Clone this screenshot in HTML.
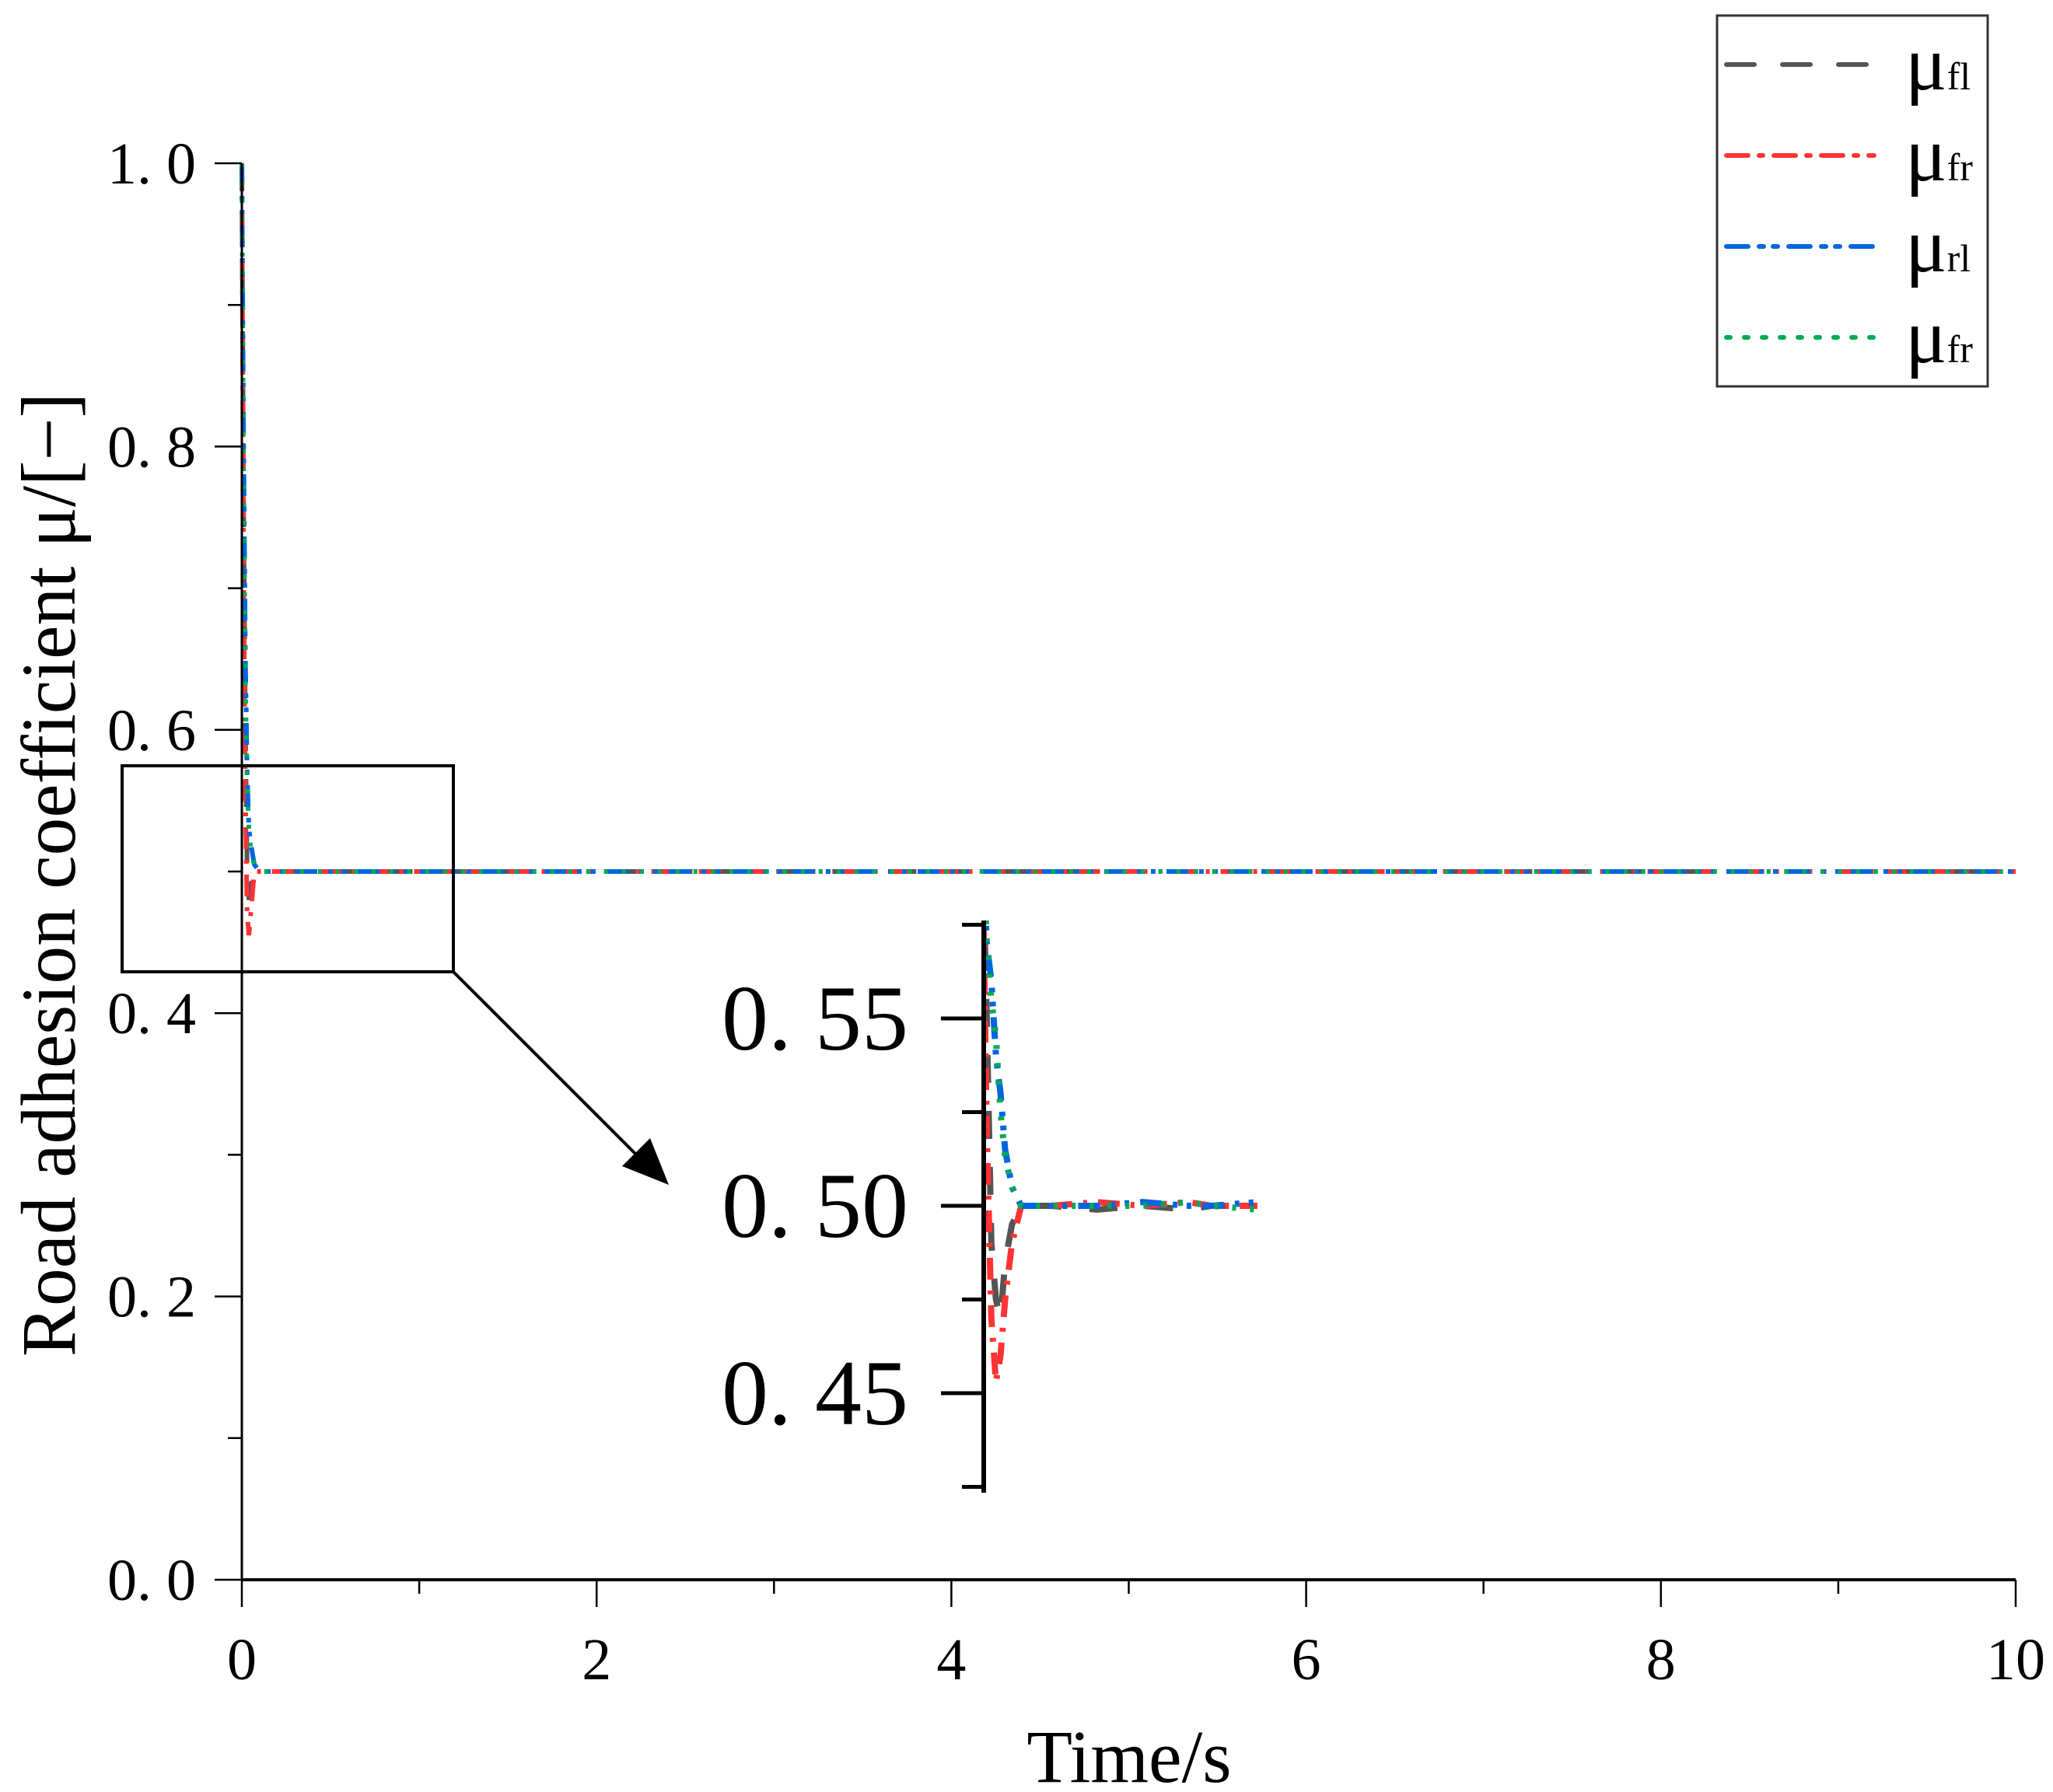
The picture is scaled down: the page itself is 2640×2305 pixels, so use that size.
<!DOCTYPE html>
<html><head><meta charset="utf-8"><style>
html,body{margin:0;padding:0;background:#fff;}
svg{display:block;font-family:"Liberation Serif",serif;}
</style></head><body>
<svg id="chart" width="2640" height="2305" viewBox="0 0 2640 2305" xmlns="http://www.w3.org/2000/svg">
<g id="main"></g>
<g id="inset"></g>
<g id="legend"></g>
</svg>
<script>
const NS="http://www.w3.org/2000/svg";
// main data
const timeMain=[0,0.01,0.02,0.03,0.04,0.05,0.07,0.1,0.5,1,2,3,4,5,6,7,8,9,10];
const muFl=[1.0,0.75,0.6,0.5,0.48,0.49,0.5,0.5,0.5,0.5,0.5,0.5,0.5,0.5,0.5,0.5,0.5,0.5,0.5];
const muFr=[1.0,0.7,0.55,0.47,0.455,0.47,0.5,0.5,0.5,0.5,0.5,0.5,0.5,0.5,0.5,0.5,0.5,0.5,0.5];
const muRl=[1.0,0.8,0.65,0.57,0.53,0.52,0.505,0.5,0.5,0.5,0.5,0.5,0.5,0.5,0.5,0.5,0.5,0.5,0.5];
const muRr=[1.0,0.78,0.63,0.56,0.53,0.515,0.505,0.5,0.5,0.5,0.5,0.5,0.5,0.5,0.5,0.5,0.5,0.5,0.5];
const xTicks=[0,2,4,6,8,10];
const yTicks=[0,0.2,0.4,0.6,0.8,1.0];
const yTickLabels=["0. 0","0. 2","0. 4","0. 6","0. 8","1. 0"];
// inset data
const timeInset=[0,0.02,0.04,0.06,0.08,0.1,0.13,0.17,0.3,0.5,0.7,0.9,1.0,1.2];
const inFl=[0.6,0.55,0.49,0.475,0.47,0.485,0.495,0.5,0.5,0.499,0.5,0.499,0.5,0.5];
const inFr=[0.6,0.52,0.47,0.453,0.46,0.475,0.49,0.5,0.5,0.501,0.5,0.501,0.5,0.5];
const inRl=[0.6,0.57,0.56,0.54,0.53,0.515,0.505,0.5,0.5,0.5,0.501,0.5,0.5,0.501];
const inRr=[0.6,0.57,0.555,0.545,0.525,0.513,0.505,0.5,0.5,0.5,0.5,0.501,0.5,0.499];
const insetTicks=[0.45,0.5,0.55];
const insetTickLabels=["0. 45","0. 50","0. 55"];

const X0=311,X1=2592,Y0=2032,Y1=210;
const sx=t=>X0+(X1-X0)*t/10;
const sy=v=>Y0-(Y0-Y1)*v;
const IX0=1263,IXW=295;
const isx=t=>IX0+IXW*t;
const isy=v=>1551-(v-0.5)*4820;

const styles=[
 {c:"#555555",d:"36 36",n:"fl"},
 {c:"#ff3333",d:"28 14 5 14",n:"fr"},
 {c:"#0066dd",d:"28 14 6 12 6 14",n:"rl"},
 {c:"#00aa55",d:"5 18",n:"rr"}];

function el(tag,attrs,parent,text){const e=document.createElementNS(NS,tag);for(const k in attrs)e.setAttribute(k,attrs[k]);if(text!==undefined)e.textContent=text;parent.appendChild(e);return e;}

const main=document.getElementById('main');
[muFl,muFr,muRl,muRr].forEach((s,i)=>{
 const d=s.map((v,j)=>(j?'L':'M')+sx(timeMain[j]).toFixed(1)+' '+sy(v).toFixed(1)).join(' ');
 const p=el('path',{d:d,fill:'none',stroke:styles[i].c,'stroke-width':6,'stroke-dasharray':styles[i].d},main);
 
 
});
const ax=el('line',{x1:X0,y1:Y0,x2:X1,y2:Y0,stroke:'#000','stroke-width':4},main);

const ay=el('line',{x1:X0,y1:Y0,x2:X0,y2:Y1,stroke:'#000','stroke-width':3},main);

for(let t=0;t<=10;t++){
 const major=t%2===0;
 const tk=el('line',{x1:sx(t),y1:Y0,x2:sx(t),y2:Y0+(major?35:18),stroke:'#000','stroke-width':2.5},main);
 
}
xTicks.forEach(t=>{
 const tx=el('text',{x:sx(t),y:2160,'font-size':76,'text-anchor':'middle'},main,String(t));
 
});
for(let k=0;k<=10;k++){
 const v=k/10,major=k%2===0;
 const tk=el('line',{x1:X0-(major?35:18),y1:sy(v),x2:X0,y2:sy(v),stroke:'#000','stroke-width':2.5},main);
 
}
yTicks.forEach((v,i)=>{
 const tx=el('text',{x:252,y:sy(v)+26,'font-size':76,'text-anchor':'end'},main,yTickLabels[i]);
 
});
const xt=el('text',{x:1452,y:2292,'font-size':96,'text-anchor':'middle'},main,'Time/s');

const yt=el('text',{x:0,y:0,'font-size':100,'text-anchor':'middle',textLength:1240,lengthAdjust:'spacingAndGlyphs',transform:'translate(96,1125) rotate(-90)'},main,'Road adhesion coefficient μ/[−]');

const zb=el('rect',{x:157,y:985,width:426,height:265,fill:'none',stroke:'#000','stroke-width':4},main);

const ar=el('line',{x1:583,y1:1250,x2:820,y2:1487,stroke:'#000','stroke-width':4},main);

const ah=el('polygon',{points:'860,1524 800,1500 836,1464',fill:'#000'},main);


const inset=document.getElementById('inset');
el('clipPath',{id:'ic'},inset);
el('rect',{x:1263,y:1184,width:400,height:736},document.getElementById('ic'));
const ig=el('g',{'clip-path':'url(#ic)'},inset);
[inFl,inFr,inRl,inRr].forEach((s,i)=>{
 const d=s.map((v,j)=>(j?'L':'M')+isx(timeInset[j]).toFixed(1)+' '+isy(v).toFixed(1)).join(' ');
 const p=el('path',{d:d,fill:'none',stroke:styles[i].c,'stroke-width':8,'stroke-dasharray':styles[i].d},ig);
 
 
});
const iax=el('line',{x1:1265,y1:1184,x2:1265,y2:1920,stroke:'#000','stroke-width':6},inset);

[0.575,0.55,0.525,0.5,0.475,0.45,0.425].forEach((v,k)=>{
 const major=k%2===1;
 const tk=el('line',{x1:1265-(major?55:28),y1:isy(v),x2:1265,y2:isy(v),stroke:'#000','stroke-width':5},inset);
 
});
insetTicks.forEach((v,i)=>{
 const tx=el('text',{x:1168,y:isy(v)+40,'font-size':120,'text-anchor':'end'},inset,insetTickLabels[i]);
 
});

const lg=document.getElementById('legend');
const lb=el('rect',{x:2208,y:20,width:348,height:477,fill:'#fff',stroke:'#333','stroke-width':3},lg);

const labels=['fl','fr','rl','fr'];
styles.forEach((s,i)=>{
 const y=83+i*117;
 const ln=el('line',{x1:2220,y1:y,x2:2410,y2:y,stroke:s.c,'stroke-width':6,'stroke-linecap':'round','stroke-dasharray':s.d},lg);
 
 const tx=el('text',{x:2450,y:y+32,'font-size':100},lg);
 
 el('tspan',{},tx,'μ');
 el('tspan',{'font-size':50},tx,labels[i]);
});
</script>
</body></html>
